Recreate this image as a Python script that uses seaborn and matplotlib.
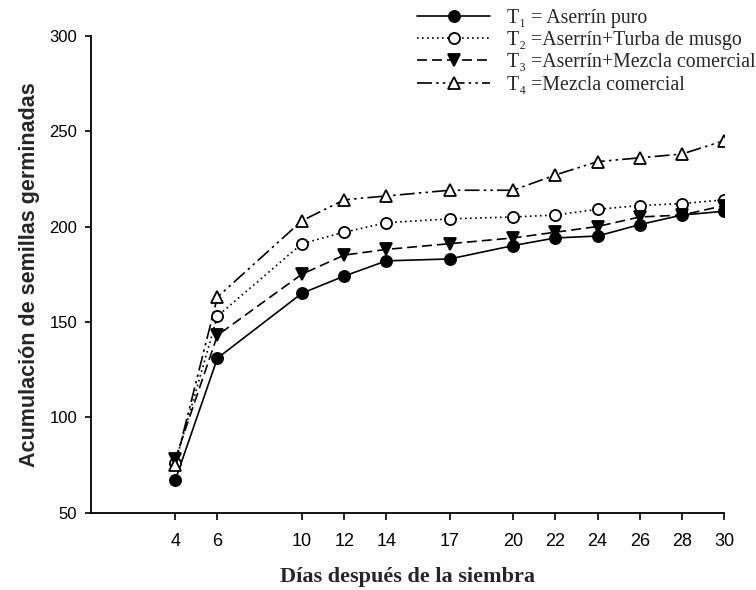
import matplotlib
matplotlib.use("Agg")
import matplotlib.pyplot as plt
import seaborn as sns

# data
days = [4, 6, 10, 12, 14, 17, 20, 22, 24, 26, 28, 30]
t1 = [67, 131, 165, 174, 182, 183, 190, 194, 195, 201, 206, 208]
t2 = [76, 153, 191, 197, 202, 204, 205, 206, 209, 211, 212, 214]
t3 = [78, 143, 175, 185, 188, 191, 194, 197, 200, 205, 206, 211]
t4 = [75, 163, 203, 214, 216, 219, 219, 227, 234, 236, 238, 245]

labels = ["T₁ = Aserrín puro",
          "T₂ =Aserrín+Turba de musgo",
          "T₃ =Aserrín+Mezcla comercial",
          "T₄ =Mezcla comercial"]
yticks = [50, 100, 150, 200, 250, 300]

sns.set_style("ticks")

fig = plt.figure(figsize=(7.56, 5.90), dpi=100)
ax = fig.add_axes([0.12, 0.131, 0.838, 0.8085])

styles = [
    dict(linestyle="-", marker="o", markerfacecolor="black"),
    dict(linestyle=(0, (1, 2)), marker="o", markerfacecolor="white"),
    dict(linestyle=(0, (6, 3)), marker="v", markerfacecolor="black"),
    dict(linestyle=(0, (9, 2.5, 1.5, 2.5, 1.5, 2.5)), marker="^", markerfacecolor="white"),
]

for vals, lab, st in zip([t1, t2, t3, t4], labels, styles):
    sns.lineplot(x=days, y=vals, ax=ax, color="black", linewidth=1.2,
                 markersize=8, markeredgecolor="black", markeredgewidth=1.3,
                 label=lab, **st)

ax.set_xlim(0, 30)
ax.set_ylim(50, 300)
ax.set_xticks(days)
ax.set_yticks(yticks)
sns.despine(ax=ax)
for s in ["left", "bottom"]:
    ax.spines[s].set_linewidth(1.3)
    ax.spines[s].set_color("black")
ax.tick_params(direction="out", width=1.2, colors="black")
ax.tick_params(axis="x", length=5, pad=9.5)
ax.tick_params(axis="y", length=4.2, pad=5.5)
for t in ax.get_xticklabels():
    t.set_family(["Liberation Sans Narrow", "Liberation Sans"])
    t.set_fontsize(13)
for t in ax.get_yticklabels():
    t.set_family(["Liberation Sans", "DejaVu Sans"])
    t.set_fontsize(12)

ax.set_ylabel("Acumulación de semillas germinadas", fontsize=15.5, fontweight="bold",
              family=["Liberation Sans", "DejaVu Sans"], labelpad=7)
ax.set_xlabel("Días después de la siembra", fontsize=16, fontweight="bold",
              family=["Liberation Serif", "DejaVu Serif"], labelpad=12)

handles, labs = ax.get_legend_handles_labels()
ax.get_legend().remove()
fig.legend(handles, labs, loc="upper left", bbox_to_anchor=(417 / 756, 1 - 9 / 590),
           frameon=False, handlelength=3.7, handletextpad=0.85, labelspacing=0.16,
           borderaxespad=0, borderpad=0,
           prop={"family": ["Liberation Serif", "DejaVu Serif"], "size": 14.3})

fig.savefig("out.png", dpi=100, facecolor="white")
